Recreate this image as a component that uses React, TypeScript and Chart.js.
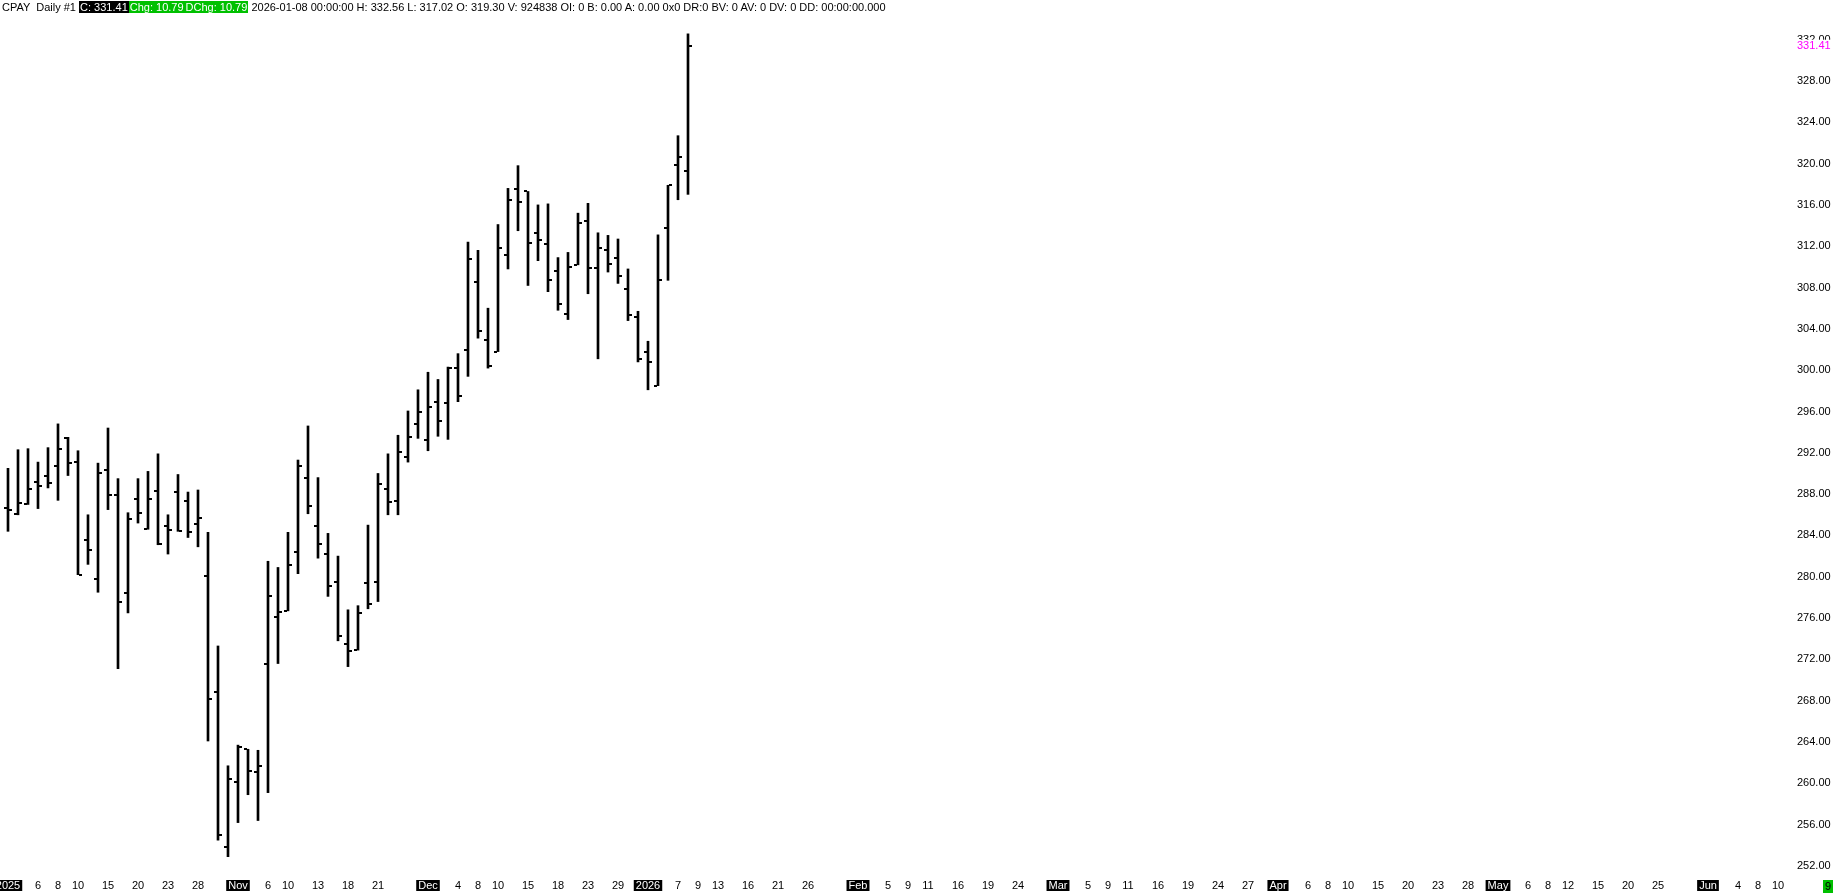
import React, { useEffect, useRef } from "react";
import { Chart, registerables } from "chart.js";

Chart.register(...registerables);

// OHLC values, Oct 1 2025 .. Jan 8 2026 (daily bars)
const opens = [
  286.7, 286.1, 287.0, 289.2, 289.8, 290.7, 293.4, 291.1, 283.6, 279.8,
  290.3, 287.9, 278.4, 287.5, 284.6, 288.3, 284.9, 288.2, 287.3, 285.1,
  280.1, 268.8, 253.8, 260.1, 263.3, 261.1, 271.6, 276.1, 276.7, 282.4,
  289.6, 284.9, 282.2, 279.5, 273.5, 272.9, 279.4, 279.5, 288.5, 287.3,
  291.6, 294.8, 293.2, 296.95, 296.8, 300.2, 301.95, 308.5, 302.9, 301.8,
  311.15, 317.5, 317.3, 313.3, 312.2, 309.6, 305.4, 310.2, 314.4, 309.9,
  311.6, 310.9, 307.9, 305.1, 301.8, 298.5, 313.8, 319.9, 319.3,
];
const highs = [
  290.5, 292.3, 292.4, 291.1, 292.5, 294.8, 293.5, 292.2, 286.0, 291.0,
  294.4, 289.5, 286.2, 289.5, 290.2, 291.9, 286.0, 289.9, 288.2, 288.4,
  284.3, 273.3, 261.7, 263.7, 263.3, 263.2, 281.5, 280.9, 284.3, 291.3,
  294.6, 289.6, 284.2, 282.0, 276.8, 277.2, 285.0, 290.0, 291.9, 293.7,
  296.05, 298.1, 299.8, 299.1, 300.3, 301.6, 312.4, 311.6, 306.0, 314.1,
  317.6, 319.8, 317.3, 316.0, 316.1, 310.9, 311.4, 315.2, 316.15, 313.3,
  313.05, 312.7, 309.8, 305.7, 302.8, 313.1, 317.9, 322.7, 332.56,
];
const lows = [
  284.4, 286.0, 287.0, 286.6, 288.6, 287.4, 289.8, 280.2, 281.2, 278.5,
  286.5, 271.1, 276.5, 285.2, 284.6, 283.1, 282.2, 284.4, 283.8, 282.9,
  264.1, 254.5, 252.9, 256.2, 258.9, 256.4, 259.1, 271.6, 276.7, 280.3,
  286.1, 281.8, 278.1, 273.8, 271.3, 272.9, 276.9, 277.6, 286.0, 286.0,
  291.1, 293.4, 292.2, 293.6, 293.3, 296.95, 299.4, 303.1, 300.2, 301.8,
  309.8, 313.5, 308.2, 310.6, 307.6, 305.8, 304.9, 310.2, 307.4, 301.1,
  309.5, 308.4, 304.8, 300.8, 298.1, 298.5, 308.7, 316.5, 317.02,
];
const closes = [
  286.5, 287.1, 288.5, 288.8, 289.1, 292.4, 291.0, 280.2, 282.6, 290.0,
  287.9, 277.6, 285.6, 286.2, 287.5, 283.2, 284.5, 284.4, 284.3, 285.7,
  268.2, 255.0, 260.4, 263.5, 261.2, 261.7, 278.1, 276.6, 281.1, 290.75,
  286.85, 283.2, 279.1, 274.3, 272.8, 276.5, 277.4, 289.0, 287.2, 292.1,
  293.5, 295.95, 296.4, 295.1, 300.2, 297.5, 310.8, 303.8, 300.4, 311.8,
  316.5, 316.3, 312.3, 312.6, 308.7, 306.4, 310.0, 314.2, 309.9, 311.8,
  310.3, 309.1, 305.3, 301.1, 300.8, 308.7, 317.9, 320.62, 331.41,
];

// x-axis tick labels (trading-day index -> text)
const tickIndex = [
  0, 3, 5, 7, 10, 13, 16, 19, 23, 26, 28, 31, 34, 37, 42, 45, 47, 49, 52, 55,
  58, 61, 64, 67, 69, 71, 74, 77, 80, 85, 88, 90, 92, 95, 98, 101, 105, 108,
  110, 112, 115, 118, 121, 124, 127, 130, 132, 134, 137, 140, 143, 146, 149,
  152, 154, 156, 159, 162, 165, 170, 173, 175, 177,
];
const tickText = [
  "2025", "6", "8", "10", "15", "20", "23", "28", "Nov", "6", "10", "13", "18", "21", "Dec", "4", "8", "10", "15", "18",
  "23", "29", "2026", "7", "9", "13", "16", "21", "26", "Feb", "5", "9", "11", "16", "19", "24", "Mar", "5",
  "9", "11", "16", "19", "24", "27", "Apr", "6", "8", "10", "15", "20", "23", "28", "May",
  "6", "8", "12", "15", "20", "25", "Jun", "4", "8", "10",
];
const periodLabels = ["2025", "Nov", "Dec", "2026", "Feb", "Mar", "Apr", "May", "Jun"];
const yTickValues = [
  252, 256, 260, 264, 268, 272, 276, 280, 284, 288, 292, 296, 300, 304, 308,
  312, 316, 320, 324, 328, 332,
];
const lastClose = 331.41;

const FONT = '"Liberation Sans", Arial, sans-serif';

function makeTickImage(side: "left" | "right") {
  const c = document.createElement("canvas");
  c.width = 8;
  c.height = 2;
  const g = c.getContext("2d")!;
  g.fillStyle = "#000";
  g.fillRect(side === "left" ? 0 : 5, 0, 3, 2);
  return c;
}

const priceLabelPlugin = {
  id: "priceLabel",
  afterDraw(chart: any) {
    const ys = chart.scales.y;
    const py = ys.getPixelForValue(lastClose);
    const ctx = chart.ctx;
    ctx.save();
    ctx.fillStyle = "#fff";
    ctx.fillRect(ys.left + 1, py - 6, ys.width - 1, 12);
    ctx.font = "11px " + FONT;
    ctx.fillStyle = "#ff00ff";
    ctx.textBaseline = "middle";
    ctx.textAlign = "left";
    ctx.fillText(lastClose.toFixed(2), ys.left + 2, py);
    ctx.restore();
  },
};

function isPeriod(value: number) {
  const k = tickIndex.indexOf(value);
  return k >= 0 && periodLabels.includes(tickText[k]);
}

export default function App() {
  const ref = useRef<HTMLCanvasElement | null>(null);

  useEffect(() => {
    document.body.style.margin = "0";
    const canvas = ref.current!;
    const openImg = makeTickImage("left");
    const closeImg = makeTickImage("right");
    const chart = new Chart(canvas, {
      type: "bar",
      data: {
        datasets: [
          {
            type: "bar",
            data: lows.map((l, i) => ({ x: i, y: [l, highs[i]] })) as any,
            backgroundColor: "#000",
            borderWidth: 0,
            barThickness: 2,
            grouped: false,
          } as any,
          {
            type: "line",
            data: opens.map((o, i) => ({ x: i, y: o })),
            showLine: false,
            pointStyle: openImg as any,
            pointRadius: 4,
            pointBorderWidth: 0,
          } as any,
          {
            type: "line",
            data: closes.map((c, i) => ({ x: i, y: c })),
            showLine: false,
            pointStyle: closeImg as any,
            pointRadius: 4,
            pointBorderWidth: 0,
          } as any,
        ],
      },
      options: {
        responsive: false,
        animation: false,
        devicePixelRatio: 1,
        layout: { autoPadding: false, padding: { top: 26, left: 0, right: 0, bottom: 0 } },
        plugins: {
          legend: { display: false },
          tooltip: { enabled: false },
          title: { display: false },
        },
        scales: {
          x: {
            type: "linear",
            offset: false,
            min: -0.8,
            max: 178.7,
            grid: { display: false, drawTicks: false, offset: false },
            border: { display: false },
            afterBuildTicks: (scale: any) => {
              scale.ticks = tickIndex.map((v) => ({ value: v }));
            },
            afterFit: (scale: any) => {
              scale.height = 18;
              scale.paddingLeft = 0;
              scale.paddingRight = 0;
            },
            ticks: {
              autoSkip: false,
              maxRotation: 0,
              minRotation: 0,
              padding: 4,
              font: { family: FONT, size: 11, lineHeight: 1 },
              color: (ctx: any) => (isPeriod(ctx.tick?.value) ? "#fff" : "#000"),
              showLabelBackdrop: true,
              backdropColor: (ctx: any) =>
                isPeriod(ctx.tick?.value) ? "#000" : "rgba(0,0,0,0)",
              backdropPadding: { left: 2, right: 2, top: 0, bottom: 0 },
              callback: (v: any) => {
                const k = tickIndex.indexOf(Number(v));
                return k >= 0 ? tickText[k] : "";
              },
            } as any,
          },
          y: {
            type: "linear",
            position: "right",
            min: 251.03,
            max: 333.32,
            grid: { display: false, drawTicks: false },
            border: { display: false },
            afterBuildTicks: (scale: any) => {
              scale.ticks = yTickValues.map((v) => ({ value: v }));
            },
            afterFit: (scale: any) => {
              scale.width = 40;
              scale.paddingTop = 0;
              scale.paddingBottom = 0;
            },
            ticks: {
              padding: 2,
              color: "#000",
              font: { family: FONT, size: 11 },
              callback: (v: any) => Number(v).toFixed(2),
            },
          },
        },
      },
      plugins: [priceLabelPlugin],
    });
    return () => chart.destroy();
  }, []);

  const box = (bg: string, fg: string) => ({
    background: bg,
    color: fg,
    padding: "0 1px",
  });

  return (
    <div style={{ position: "relative", width: 1835, height: 894, background: "#fff" }}>
      <canvas ref={ref} width={1835} height={894} style={{ width: 1835, height: 894, display: "block" }} />
      <div
        style={{
          position: "absolute",
          left: 2,
          top: 0,
          font: "11px " + FONT,
          lineHeight: "15px",
          whiteSpace: "pre",
          color: "#000",
        }}
      >
        <span>CPAY  Daily #1 </span>
        <span style={box("#000", "#fff")}>C: 331.41</span>
        <span style={box("#00c000", "#fff")}>Chg: 10.79</span>
        <span style={box("#00c000", "#fff")}>DChg: 10.79</span>
        <span> 2026-01-08 00:00:00 H: 332.56 L: 317.02 O: 319.30 V: 924838 OI: 0 B: 0.00 A: 0.00 0x0 DR:0 BV: 0 AV: 0 DV: 0 DD: 00:00:00.000</span>
      </div>
      <div
        style={{
          position: "absolute",
          left: 1823,
          top: 880,
          width: 10,
          height: 13,
          background: "#00c000",
          color: "#000",
          font: "11px " + FONT,
          lineHeight: "13px",
          textAlign: "center",
        }}
      >
        9
      </div>
    </div>
  );
}
